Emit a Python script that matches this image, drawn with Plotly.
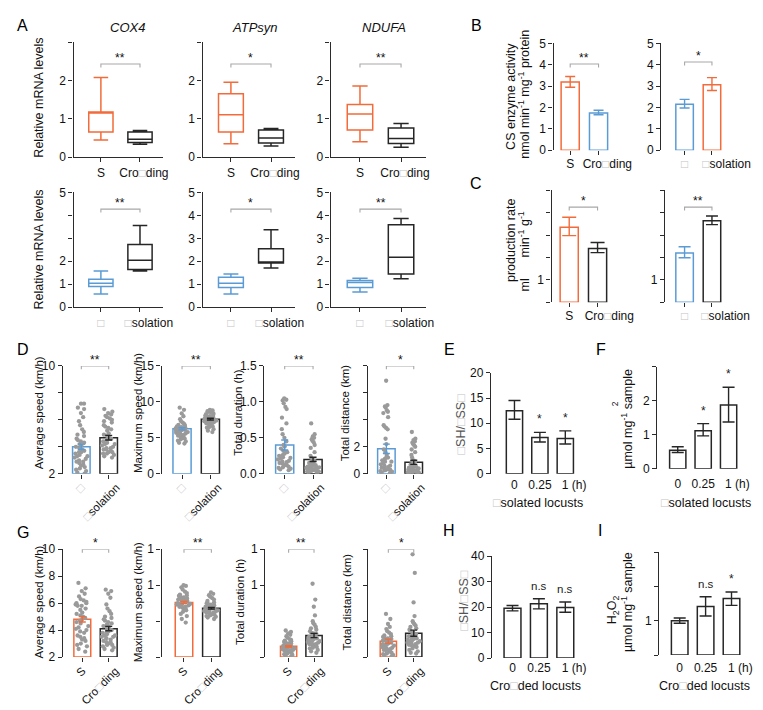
import plotly.graph_objects as go

W, H = 763, 710
FONT = "Liberation Sans, Arial, Helvetica, sans-serif"
ORANGE = "#F26B3A"
BLUE = "#5B9BD5"
BLACK = "#262626"
DOT = "#9a9a9a"
BRK = "#a8a8a8"
AX = "#2b2b2b"
TOFU = '<span style="color:#c4c4c4">□</span>'

# ===================== DATA =====================
# Panel A - relative mRNA levels (box stats), genes COX4, ATPsyn, NDUFA
a_genes = ["COX4", "ATPsyn", "NDUFA"]
a_top_groups = ["S", "Cro" + TOFU + "ding"]
a_bot_groups = [TOFU, TOFU + "solation"]
a_top_s_low = [0.45, 0.35, 0.40]
a_top_s_q1 = [0.66, 0.66, 0.71]
a_top_s_med = [1.17, 1.11, 1.13]
a_top_s_q3 = [1.18, 1.66, 1.38]
a_top_s_high = [2.08, 1.96, 1.86]
a_top_c_low = [0.34, 0.29, 0.26]
a_top_c_q1 = [0.38, 0.37, 0.36]
a_top_c_med = [0.47, 0.50, 0.49]
a_top_c_q3 = [0.66, 0.71, 0.76]
a_top_c_high = [0.70, 0.75, 0.88]
a_bot_g_low = [0.57, 0.57, 0.66]
a_bot_g_q1 = [0.90, 0.86, 0.86]
a_bot_g_med = [1.04, 1.04, 1.07]
a_bot_g_q3 = [1.21, 1.30, 1.16]
a_bot_g_high = [1.57, 1.44, 1.26]
a_bot_i_low = [1.57, 1.71, 1.24]
a_bot_i_q1 = [1.64, 1.92, 1.44]
a_bot_i_med = [2.04, 1.94, 2.17]
a_bot_i_q3 = [2.73, 2.54, 3.59]
a_bot_i_high = [3.56, 3.37, 3.86]
a_top_sig = ["**", "*", "**"]
a_bot_sig = ["**", "*", "**"]

# Panel B - CS enzyme activity
b_left_groups = ["S", "Cro" + TOFU + "ding"]
b_left_mean = [3.20, 1.75]
b_left_lo = [2.95, 1.66]
b_left_hi = [3.45, 1.87]
b_right_groups = [TOFU, TOFU + "solation"]
b_right_mean = [2.15, 3.07]
b_right_lo = [1.98, 2.80]
b_right_hi = [2.38, 3.40]
b_sig = ["**", "*"]

# Panel C - production rate
c_left_mean = [3.35, 2.40]
c_left_lo = [2.98, 2.22]
c_left_hi = [3.80, 2.67]
c_right_mean = [2.20, 3.65]
c_right_lo = [1.99, 3.47]
c_right_hi = [2.48, 3.86]
c_sig = ["*", "**"]

# Panel D - flight performance, gregarious vs isolation
d_titles = ["Average speed (km/h)", "Maximum speed (km/h)", "Total duration (h)", "Total distance (km)"]
d_groups = [TOFU, TOFU + "solation"]
d_mean = [[4.00, 4.67], [6.25, 7.60], [0.40, 0.20], [1.85, 0.85]]
d_lo = [[3.80, 4.50], [6.10, 7.48], [0.33, 0.17], [1.50, 0.70]]
d_hi = [[4.20, 4.85], [6.40, 7.72], [0.47, 0.23], [2.20, 1.00]]
d_sig = ["**", "**", "**", "*"]
d_pts_greg = [
    [7.2, 7.2, 6.9, 6.8, 6.5, 6.2, 5.9, 5.6, 5.3, 5.1, 4.9, 4.8, 4.6, 4.4, 4.3, 4.2, 4.1, 4.0, 3.9, 3.8, 3.7,
     3.6, 3.5, 3.4, 3.3, 3.3, 3.2, 3.1, 3.0, 2.9, 2.8, 2.7, 2.6, 2.5, 2.4, 2.3, 2.2, 2.1, 2.0, 3.6, 4.5, 2.9],
    [9.2, 8.9, 8.4, 8.0, 7.6, 7.3, 7.1, 6.9, 6.8, 6.7, 6.6, 6.5, 6.4, 6.4, 6.3, 6.3, 6.2, 6.2, 6.1, 6.1,
     6.0, 6.0, 5.9, 5.8, 5.7, 5.6, 5.5, 5.4, 5.3, 5.2, 5.1, 5.0, 4.9, 4.8, 4.6, 4.5, 4.3, 4.2, 5.8, 6.5],
    [1.05, 1.03, 1.02, 0.98, 0.93, 0.90, 0.78, 0.70, 0.62, 0.55, 0.50, 0.45, 0.40, 0.38, 0.35, 0.32, 0.30,
     0.28, 0.26, 0.25, 0.23, 0.21, 0.20, 0.18, 0.16, 0.15, 0.14, 0.12, 0.10, 0.09, 0.08, 0.07, 0.06, 0.05,
     0.30, 0.22, 0.17, 0.12],
    [6.9, 5.1, 5.0, 4.9, 4.7, 4.6, 4.5, 4.2, 3.6, 3.5, 3.4, 3.3, 2.6, 2.2, 1.8, 1.6, 1.4, 1.2, 1.1, 1.0, 0.9,
     0.8, 0.7, 0.6, 0.5, 0.45, 0.4, 0.35, 0.3, 0.25, 0.2, 0.15, 0.1, 0.05, 0.9, 0.6, 1.2, 0.3],
]
d_pts_iso = [
    [6.8, 6.6, 6.5, 6.4, 6.3, 6.2, 6.1, 6.0, 5.9, 5.8, 5.6, 5.5, 5.3, 5.2, 5.0, 4.9, 4.8, 4.7, 4.6, 4.5,
     4.4, 4.3, 4.2, 4.1, 4.0, 3.9, 3.8, 3.7, 3.6, 3.5, 3.4, 3.3, 3.2, 3.9, 4.6, 5.4, 3.5, 4.2, 3.8, 3.6],
    [8.9, 8.8, 8.7, 8.6, 8.5, 8.4, 8.3, 8.2, 8.1, 8.0, 7.9, 7.8, 7.8, 7.7, 7.7, 7.6, 7.6, 7.5, 7.5, 7.4,
     7.4, 7.3, 7.3, 7.2, 7.1, 7.0, 6.9, 6.8, 6.7, 6.6, 6.5, 6.4, 6.2, 6.0, 5.8, 7.6, 7.2, 8.0],
    [0.70, 0.55, 0.52, 0.50, 0.48, 0.46, 0.44, 0.40, 0.36, 0.30, 0.25, 0.22, 0.20, 0.18, 0.16, 0.15, 0.14,
     0.13, 0.12, 0.11, 0.10, 0.10, 0.09, 0.08, 0.08, 0.07, 0.06, 0.06, 0.05, 0.05, 0.04, 0.04, 0.03, 0.03,
     0.02, 0.02, 0.12, 0.09, 0.15, 0.07],
    [3.1, 2.6, 2.5, 2.4, 2.3, 2.2, 2.1, 2.0, 1.8, 1.6, 1.4, 1.2, 1.0, 0.9, 0.8, 0.7, 0.6, 0.55, 0.5, 0.45,
     0.4, 0.35, 0.3, 0.3, 0.25, 0.2, 0.2, 0.15, 0.1, 0.1, 0.05, 0.05, 0.6, 0.4, 0.3, 0.2, 0.5, 0.7, 0.15, 0.1],
]

# Panel G - flight performance, S vs crowding
g_titles = d_titles
g_groups = ["S", "Cro" + TOFU + "ding"]
g_mean = [[4.80, 4.10], [7.60, 6.80], [0.15, 0.30], [2.20, 3.30]]
g_lo = [[4.60, 3.95], [7.45, 6.68], [0.14, 0.27], [1.90, 2.90]]
g_hi = [[5.00, 4.28], [7.75, 6.92], [0.16, 0.33], [2.50, 3.75]]
g_sig = ["*", "**", "**", "*"]
g_pts_s = [
    [7.5, 7.1, 6.9, 6.7, 6.5, 6.3, 6.2, 6.1, 6.0, 5.9, 5.8, 5.6, 5.5, 5.3, 5.2, 5.0, 4.9, 4.8, 4.6, 4.5,
     4.3, 4.2, 4.0, 3.9, 3.8, 3.6, 3.5, 3.3, 3.2, 3.0, 2.9, 2.8, 2.6, 2.4, 5.8, 4.1, 6.0, 3.4, 5.1, 4.7],
    [10.0, 9.9, 9.7, 9.4, 9.1, 8.9, 8.7, 8.6, 8.5, 8.4, 8.3, 8.2, 8.1, 8.0, 7.9, 7.8, 7.7, 7.6, 7.5, 7.4,
     7.3, 7.3, 7.2, 7.1, 7.0, 6.9, 6.8, 6.7, 6.5, 6.3, 6.0, 5.7, 5.3, 4.8, 7.8, 7.4, 8.1, 7.0],
    [0.37, 0.35, 0.33, 0.31, 0.29, 0.27, 0.25, 0.24, 0.23, 0.22, 0.21, 0.20, 0.19, 0.18, 0.17, 0.16, 0.15,
     0.14, 0.14, 0.13, 0.12, 0.12, 0.11, 0.10, 0.10, 0.09, 0.08, 0.08, 0.07, 0.06, 0.05, 0.04, 0.03, 0.02,
     0.01, 0.16, 0.12, 0.19, 0.09, 0.14],
    [6.0, 5.3, 4.6, 4.2, 3.9, 3.6, 3.4, 3.2, 3.0, 2.9, 2.8, 2.7, 2.6, 2.5, 2.4, 2.3, 2.2, 2.1, 2.0, 1.9,
     1.8, 1.7, 1.6, 1.5, 1.4, 1.3, 1.2, 1.1, 1.0, 0.9, 0.8, 0.7, 0.6, 0.5, 0.4, 0.3, 0.2, 0.1, 2.5, 1.8],
]
g_pts_c = [
    [7.0, 6.9, 6.7, 6.4, 5.9, 5.6, 5.4, 5.2, 5.0, 4.9, 4.7, 4.6, 4.5, 4.4, 4.3, 4.2, 4.1, 4.0, 3.9, 3.8,
     3.7, 3.6, 3.5, 3.4, 3.3, 3.2, 3.1, 3.0, 2.9, 2.8, 2.7, 2.6, 2.5, 3.8, 4.3, 3.5, 3.1, 2.9, 4.8, 3.6],
    [9.0, 8.8, 8.6, 8.4, 8.2, 8.0, 7.8, 7.6, 7.5, 7.4, 7.3, 7.2, 7.1, 7.0, 6.9, 6.8, 6.7, 6.6, 6.5, 6.5,
     6.4, 6.3, 6.2, 6.1, 6.0, 5.9, 5.8, 5.7, 5.6, 5.5, 5.3, 6.8, 7.0, 6.6, 6.2, 5.9, 7.2, 6.4],
    [1.02, 0.80, 0.70, 0.58, 0.50, 0.47, 0.45, 0.42, 0.40, 0.38, 0.36, 0.34, 0.32, 0.30, 0.29, 0.28, 0.27,
     0.26, 0.25, 0.24, 0.23, 0.22, 0.21, 0.20, 0.19, 0.18, 0.17, 0.16, 0.15, 0.14, 0.13, 0.12, 0.10, 0.08,
     0.06, 0.25, 0.33, 0.22, 0.28, 0.18],
    [14.3, 11.7, 7.6, 5.7, 5.0, 4.8, 4.6, 4.4, 4.2, 4.0, 3.8, 3.6, 3.4, 3.2, 3.0, 2.9, 2.8, 2.7, 2.6, 2.5,
     2.4, 2.3, 2.2, 2.1, 2.0, 1.9, 1.8, 1.7, 1.6, 1.5, 1.4, 1.2, 1.0, 0.8, 0.6, 0.5, 2.5, 3.1, 2.0, 1.5],
]

# Panels E, F, H, I - time course (0, 0.25, 1 h)
time_labels = ["0", "0.25", "1 (h)"]
e_mean = [12.5, 7.2, 7.0]
e_lo = [10.8, 6.3, 5.9]
e_hi = [14.5, 8.2, 8.5]
e_sig = ["", "*", "*"]
f_mean = [0.55, 1.12, 1.88]
f_lo = [0.48, 0.97, 1.38]
f_hi = [0.65, 1.33, 2.40]
f_sig = ["", "*", "*"]
h_mean = [19.5, 21.3, 19.8]
h_lo = [18.5, 19.3, 18.0]
h_hi = [20.6, 23.3, 22.0]
h_sig = ["", "n.s", "n.s"]
i_mean = [1.00, 1.42, 1.65]
i_lo = [0.93, 1.14, 1.45]
i_hi = [1.08, 1.70, 1.84]
i_sig = ["", "n.s", "*"]

# ===================== FIGURE =====================
fig = go.Figure()
layout_axes = {}
annotations = []
counter = [0]


def axes(left, first, unit, ncat, top, bottom, yr, yvals, ytext, xlabels, shift_px,
         xline=False, xticks=True, angle=0, xpad=0.5, standoff=5, xfont=12):
    counter[0] += 1
    k = "" if counter[0] == 1 else str(counter[0])
    x0 = (left - first) / unit
    x1 = (ncat - 1) + xpad
    right = left + (x1 - x0) * unit
    tick = dict(ticklen=4, tickwidth=1.3, tickcolor=AX)
    minor = dict(tickvals=list(range(ncat)), ticks="outside", ticklen=4, tickwidth=1.3,
                 tickcolor=AX, showgrid=False) if xticks else dict(ticks="")
    layout_axes["xaxis" + k] = dict(
        type="linear", domain=[left / W, right / W], range=[x0, x1], anchor="y" + k,
        showline=xline, linecolor=AX, linewidth=1.3, ticks="",
        tickvals=[i + shift_px[i] / unit for i in range(ncat)], ticktext=xlabels,
        minor=minor, tickangle=angle, showgrid=False, zeroline=False,
        tickfont=dict(size=xfont, color="#111"), ticklabelstandoff=standoff)
    layout_axes["yaxis" + k] = dict(
        type="linear", domain=[1 - bottom / H, 1 - top / H], range=yr, anchor="x" + k,
        showline=True, linecolor=AX, linewidth=1.3, ticks="outside",
        tickvals=yvals, ticktext=ytext, showgrid=False, zeroline=False,
        tickfont=dict(size=12, color="#111"), **tick)
    return dict(x="x" + k, y="y" + k, yr=yr, top=top, bottom=bottom)


def px_to_val(ax, py):
    y0, y1 = ax["yr"]
    return y0 + (ax["bottom"] - py) / (ax["bottom"] - ax["top"]) * (y1 - y0)


def boxes(ax, stats, colors):
    for i, (lo, q1, md, q3, hi) in enumerate(stats):
        fig.add_trace(go.Box(
            x=[i], lowerfence=[lo], q1=[q1], median=[md], q3=[q3], upperfence=[hi],
            width=0.62, whiskerwidth=0.6, line=dict(color=colors[i], width=1.5),
            fillcolor="white", boxpoints=False, xaxis=ax["x"], yaxis=ax["y"],
            hoverinfo="skip", showlegend=False))


def bars(ax, means, colors, base=0, width=0.64):
    fig.add_trace(go.Bar(
        x=list(range(len(means))), y=[m - base for m in means], base=base, width=width,
        marker=dict(color="white", line=dict(color=colors, width=1.5)),
        xaxis=ax["x"], yaxis=ax["y"], cliponaxis=False, hoverinfo="skip", showlegend=False))


def dots(ax, groups, width=0.6):
    for i, vals in enumerate(groups):
        fig.add_trace(go.Box(
            x0=i, y=vals, boxpoints="all", jitter=0.9, pointpos=0, width=width,
            marker=dict(color=DOT, size=4.3), line=dict(width=0, color="rgba(0,0,0,0)"),
            fillcolor="rgba(0,0,0,0)", xaxis=ax["x"], yaxis=ax["y"], hoveron="points",
            showlegend=False))


def errs(ax, means, lo, hi, colors, capw=5):
    for i, m in enumerate(means):
        fig.add_trace(go.Scatter(
            x=[i], y=[m], mode="markers", marker=dict(size=1, color="rgba(0,0,0,0)"),
            error_y=dict(type="data", symmetric=False, array=[hi[i] - m], arrayminus=[m - lo[i]],
                         color=colors[i], thickness=1.4, width=capw),
            xaxis=ax["x"], yaxis=ax["y"], cliponaxis=False, hoverinfo="skip", showlegend=False))


def bracket(ax, py, text, drop_px=3.5):
    y = min(px_to_val(ax, py), ax["yr"][1])
    d = drop_px * (ax["yr"][1] - ax["yr"][0]) / (ax["bottom"] - ax["top"])
    fig.add_trace(go.Scatter(
        x=[0, 0, 1, 1], y=[y - d, y, y, y - d], mode="lines", line=dict(color=BRK, width=1.1),
        xaxis=ax["x"], yaxis=ax["y"], cliponaxis=False, hoverinfo="skip", showlegend=False))
    annotations.append(dict(x=0.5, y=y, xref=ax["x"], yref=ax["y"], text=text, showarrow=False,
                            yanchor="bottom", yshift=-3, font=dict(size=12, color="#111")))


def marks(ax, hi, sig):
    for i, s in enumerate(sig):
        if s:
            annotations.append(dict(x=i, y=hi[i], xref=ax["x"], yref=ax["y"], text=s, showarrow=False,
                                    yanchor="bottom", yshift=4 if s == "*" else 5,
                                    font=dict(size=12 if s == "*" else 11.5, color="#222")))


def txt(x, y, text, size=12, angle=0, color="#111", xanchor="center"):
    annotations.append(dict(x=x / W, y=1 - y / H, xref="paper", yref="paper", text=text,
                            showarrow=False, textangle=angle, xanchor=xanchor, yanchor="middle",
                            font=dict(size=size, color=color)))


# ---------- Panel A ----------
a_geo = [(67, 95, 40), (199, 228, 41), (330, 360, 42)]
a_bot_ytext = [["0", "1", "2", "", "", "5"], ["0", "1", "2", "3", "4", "5"], ["0", "1", "2", "3", "4", "5"]]
for g in range(3):
    left, first, unit = a_geo[g]
    ax = axes(left, first, unit, 2, 28, 145, [0, 3], [0, 1, 2, 3], ["0", "1", "2", ""],
              a_top_groups, [0, 4], xline=True, xpad=0.6, standoff=4)
    boxes(ax, [(a_top_s_low[g], a_top_s_q1[g], a_top_s_med[g], a_top_s_q3[g], a_top_s_high[g]),
               (a_top_c_low[g], a_top_c_q1[g], a_top_c_med[g], a_top_c_q3[g], a_top_c_high[g])],
          [ORANGE, BLACK])
    bracket(ax, 50, a_top_sig[g])
    ax = axes(left, first, unit, 2, 181, 298, [0, 5], [0, 1, 2, 3, 4, 5], a_bot_ytext[g],
              a_bot_groups, [0, 9], xline=True, xpad=0.6, standoff=4)
    boxes(ax, [(a_bot_g_low[g], a_bot_g_q1[g], a_bot_g_med[g], a_bot_g_q3[g], a_bot_g_high[g]),
               (a_bot_i_low[g], a_bot_i_q1[g], a_bot_i_med[g], a_bot_i_q3[g], a_bot_i_high[g])],
          [BLUE, BLACK])
    bracket(ax, 198, a_bot_sig[g])

for g, cx in enumerate([122, 253, 385]):
    txt(cx, 13, "<i>" + a_genes[g] + "</i>", size=13)
txt(32, 84, "Relative mRNA levels", size=12.5, angle=-90)
txt(32, 239, "Relative mRNA levels", size=12.5, angle=-90)

# ---------- Panel B ----------
ax = axes(558, 575, 29, 2, 29, 138, [0, 5], [0, 1, 2, 3, 4, 5], ["0", "1", "2", "3", "4", "5"],
          b_left_groups, [0, 9], xpad=0.8)
bars(ax, b_left_mean, [ORANGE, BLUE])
errs(ax, b_left_mean, b_left_lo, b_left_hi, [ORANGE, BLUE], capw=5)
bracket(ax, 50, b_sig[0])
ax = axes(668, 692, 28, 2, 29, 138, [0, 5], [0, 1, 2, 3, 4, 5], ["0", "1", "2", "3", "4", "5"],
          b_right_groups, [0, 15], xpad=0.8)
bars(ax, b_right_mean, [BLUE, ORANGE])
errs(ax, b_right_mean, b_right_lo, b_right_hi, [BLUE, ORANGE], capw=5)
bracket(ax, 48, b_sig[1])
txt(515, 83, "CS enzyme activity", size=12.5, angle=-90)
txt(528, 81, "nmol min<sup>-1</sup> mg<sup>-1</sup> protein", size=12.5, angle=-90)

# ---------- Panel C ----------
c_ytext = ["", "1", "", "", "", ""]
ax = axes(556, 574, 29, 2, 179, 293, [0, 5], [0, 1, 2, 3, 4, 5], c_ytext, b_left_groups, [0, 12],
          xpad=0.8)
bars(ax, c_left_mean, [ORANGE, BLACK])
errs(ax, c_left_mean, c_left_lo, c_left_hi, [ORANGE, BLACK], capw=7)
bracket(ax, 196, c_sig[0])
ax = axes(672, 692, 28, 2, 179, 293, [0, 5], [0, 1, 2, 3, 4, 5], c_ytext, b_right_groups, [0, 14],
          xpad=0.8)
bars(ax, c_right_mean, [BLUE, BLACK])
errs(ax, c_right_mean, c_right_lo, c_right_hi, [BLUE, BLACK], capw=6)
bracket(ax, 196, c_sig[1])
txt(515, 230, "production rate", size=12.5, angle=-90)
txt(528, 241, "ml" + "\u00a0" * 6 + "min<sup>-1</sup> g<sup>-1</sup>", size=12.5, angle=-90)

# ---------- Panels D and G ----------
dg_geo_d = [(56, 75, 28), (157, 178, 29), (262, 283, 29), (368, 387, 28)]
dg_geo_g = [(56, 76, 27), (157, 180, 28), (263, 287, 26), (368, 389, 26)]
d_yaxes = [([2, 10], [2, 4, 6, 8, 10], ["2", "", "", "", "10"], 2),
           ([0, 15], [0, 5, 10, 15], ["0", "5", "10", "15"], 0),
           ([0, 1.5], [0, 0.5, 1.0, 1.5], ["0.0", "0.5", "1.0", "1.5"], 0),
           ([0, 8], [0, 2, 4, 6, 8], ["0", "2", "", "", ""], 0)]
g_yaxes = [([2, 10], [2, 4, 6, 8, 10], ["2", "4", "6", "8", "10"], 2),
           ([0, 15], [0, 5, 10, 15], ["", "", "1", "1"], 0),
           ([0, 1.5], [0, 0.5, 1.0, 1.5], ["", "", "1", "1"], 0),
           ([0, 15], [0, 5, 10, 15], ["", "", "", ""], 0)]
d_title_x = [32, 133, 235, 345]
g_title_x = [32, 133, 237, 347]
for p in range(4):
    left, first, unit = dg_geo_d[p]
    yr, yv, yt, base = d_yaxes[p]
    ax = axes(left, first, unit, 2, 358, 468, yr, yv, yt, d_groups, [0, 8], angle=-45,
              standoff=4, xfont=11.5)
    bars(ax, d_mean[p], [BLUE, BLACK], base=base)
    dots(ax, [d_pts_greg[p], d_pts_iso[p]])
    errs(ax, d_mean[p], d_lo[p], d_hi[p], [BLUE, BLACK], capw=3.5)
    bracket(ax, 358, d_sig[p])
    txt(d_title_x[p], 406, d_titles[p], size=11.5, angle=-90)

    left, first, unit = dg_geo_g[p]
    yr, yv, yt, base = g_yaxes[p]
    ax = axes(left, first, unit, 2, 545, 655, yr, yv, yt, g_groups, [0, 7], angle=-45,
              standoff=4, xfont=11.5)
    bars(ax, g_mean[p], [ORANGE, BLACK], base=base)
    dots(ax, [g_pts_s[p], g_pts_c[p]])
    errs(ax, g_mean[p], g_lo[p], g_hi[p], [ORANGE, BLACK], capw=3.5)
    bracket(ax, 545, g_sig[p])
    txt(g_title_x[p], 599, g_titles[p], size=11.5, angle=-90)


# ---------- Panels E, F, H, I ----------
def time_panel(left, first, unit, top, bottom, yr, yv, yt, mean, lo, hi, sig, standoff):
    ax = axes(left, first, unit, 3, top, bottom, yr, yv, yt, time_labels, [0, 0, 9],
              xticks=False, standoff=standoff)
    bars(ax, mean, [BLACK, BLACK, BLACK], width=0.64)
    errs(ax, mean, lo, hi, [BLACK, BLACK, BLACK], capw=6)
    marks(ax, hi, sig)
    return ax


time_panel(494, 518, 26, 365, 468, [0, 20], [0, 5, 10, 15, 20], ["0", "5", "10", "15", "20"],
           e_mean, e_lo, e_hi, e_sig, 2)
time_panel(664, 685, 26, 359, 463, [0, 3], [0, 1, 2, 3], ["0", "1", "2", ""],
           f_mean, f_lo, f_hi, f_sig, 6)
time_panel(495, 516, 27, 552, 656, [0, 40], [0, 10, 20, 30, 40], ["0", "10", "20", "30", "40"],
           h_mean, h_lo, h_hi, h_sig, 1)
time_panel(666, 687, 26.5, 548, 653, [0, 3], [0, 1, 2, 3], ["", "1", "", ""],
           i_mean, i_lo, i_hi, i_sig, 4)

ssh = TOFU + '<span style="color:#555">SH/</span>' + TOFU + '<span style="color:#555">SS</span>' + TOFU
txt(463, 417, ssh, size=12.5, angle=-90)
txt(467, 597, ssh, size=12.5, angle=-90)
txt(542, 498, TOFU + "solated locusts", size=12.5)
txt(714, 498, TOFU + "solated locusts", size=12.5)
txt(540, 685, "Cro" + TOFU + "ded locusts", size=12.5)
txt(712, 685, "Cro" + TOFU + "ded locusts", size=12.5)
txt(633, 412, "µmol mg<sup>-1</sup> sample", size=12.5, angle=-90)
txt(621, 397, "2", size=8.5, angle=-90)
txt(633, 599, "µmol mg<sup>-1</sup> sample", size=12.5, angle=-90)
txt(619, 607, "H<sub>2</sub>O<sub>2</sub>", size=12.5, angle=-90)

# ---------- panel letters ----------
for letter, x, y in [("A", 15, 11), ("B", 479, 11), ("C", 479, 172), ("D", 15, 341), ("E", 452, 341),
                     ("F", 607, 341), ("G", 15, 528), ("H", 451, 526), ("I", 605, 526)]:
    txt(x, y, letter, size=16, color="#000")

fig.update_layout(
    width=W, height=H, margin=dict(l=0, r=0, t=0, b=0),
    paper_bgcolor="white", plot_bgcolor="white", showlegend=False,
    barmode="overlay", boxmode="overlay",
    font=dict(family=FONT, size=12, color="#111"),
    annotations=annotations, **layout_axes)

fig.write_html("out.html")
